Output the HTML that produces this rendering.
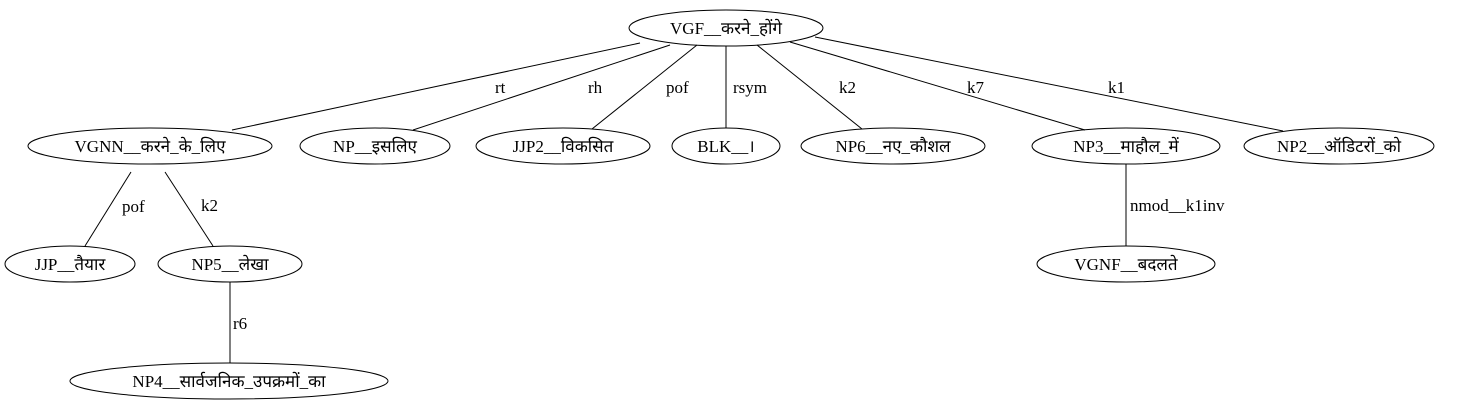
<!DOCTYPE html>
<html><head><meta charset="utf-8"><style>
html,body{margin:0;padding:0;background:#fff;}
svg text{font-family:"Liberation Serif","Noto Serif CJK SC","Noto Sans CJK SC",serif;font-size:17px;fill:#000;}
</style></head><body>
<svg width="1460" height="411" viewBox="0 0 1460 411" xmlns="http://www.w3.org/2000/svg">
<g fill="none" stroke="#000" stroke-width="1">
<ellipse cx="726" cy="28" rx="97" ry="18"/>
<ellipse cx="150" cy="146" rx="122" ry="18"/>
<ellipse cx="375" cy="146" rx="75" ry="18"/>
<ellipse cx="563" cy="146" rx="87" ry="18"/>
<ellipse cx="726" cy="146" rx="54" ry="18"/>
<ellipse cx="893" cy="146" rx="92" ry="18"/>
<ellipse cx="1126" cy="146" rx="94" ry="18"/>
<ellipse cx="1339" cy="146" rx="95" ry="18"/>
<ellipse cx="70" cy="264" rx="65" ry="18"/>
<ellipse cx="230" cy="264" rx="72" ry="18"/>
<ellipse cx="229" cy="381" rx="159" ry="18"/>
<ellipse cx="1126" cy="264" rx="89" ry="18"/>
<line x1="640" y1="43" x2="232" y2="130"/>
<line x1="670" y1="45" x2="413" y2="130"/>
<line x1="697" y1="45" x2="592" y2="129"/>
<line x1="726" y1="46" x2="726" y2="128"/>
<line x1="757" y1="45" x2="862" y2="129"/>
<line x1="790" y1="42" x2="1085" y2="130"/>
<line x1="815" y1="37" x2="1283" y2="131"/>
<line x1="131" y1="172" x2="85" y2="246"/>
<line x1="165" y1="172" x2="213" y2="246"/>
<line x1="230" y1="282" x2="230" y2="363"/>
<line x1="1126" y1="164" x2="1126" y2="246"/>
</g>
<g text-anchor="middle">
<text x="726" y="34">VGF__करने_होंगे</text>
<text x="150" y="152">VGNN__करने_के_लिए</text>
<text x="375" y="152">NP__इसलिए</text>
<text x="563" y="152">JJP2__विकसित</text>
<text x="726" y="152">BLK__।</text>
<text x="893" y="152">NP6__नए_कौशल</text>
<text x="1126" y="152">NP3__माहौल_में</text>
<text x="1339" y="152">NP2__ऑडिटरों_को</text>
<text x="70" y="270">JJP__तैयार</text>
<text x="230" y="270">NP5__लेखा</text>
<text x="229" y="387">NP4__सार्वजनिक_उपक्रमों_का</text>
<text x="1126" y="270">VGNF__बदलते</text>
</g>
<g>
<text x="495" y="93">rt</text>
<text x="588" y="93">rh</text>
<text x="666" y="93">pof</text>
<text x="733" y="93">rsym</text>
<text x="839" y="93">k2</text>
<text x="967" y="93">k7</text>
<text x="1108" y="93">k1</text>
<text x="122" y="212">pof</text>
<text x="201" y="211">k2</text>
<text x="233" y="329">r6</text>
<text x="1130" y="211">nmod__k1inv</text>
</g>
</svg>
</body></html>
